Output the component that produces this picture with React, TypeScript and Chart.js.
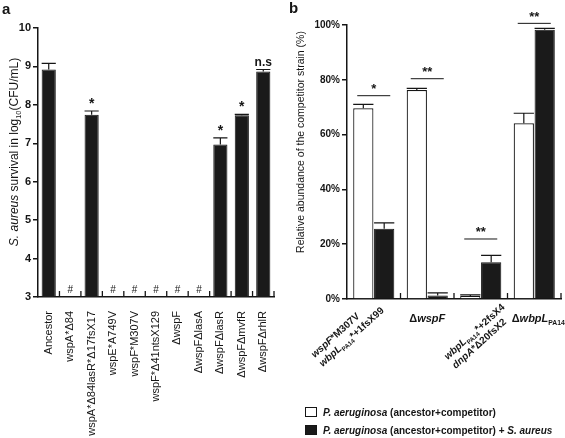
import React, { useEffect, useRef } from "react";
import { Chart, registerables } from "chart.js";

Chart.register(...registerables);

const FONT = "'Liberation Sans', Arial, Helvetica, sans-serif";
const INK = "#151515";

// ---------------- Panel a data ----------------
const strainsA = [
  "Ancestor",
  "wspA*Δ84",
  "wspA*Δ84lasR*Δ17fsX17",
  "wspE*A749V",
  "wspF*M307V",
  "wspF*Δ41ntsX129",
  "ΔwspF",
  "ΔwspFΔlasA",
  "ΔwspFΔlasR",
  "ΔwspFΔmvfR",
  "ΔwspFΔrhlR",
];
const survivalA: (number | null)[] = [8.92, null, 7.74, null, null, null, null, null, 6.97, 7.73, 8.87];
const survivalErrA = [0.16, 0, 0.1, 0, 0, 0, 0, 0, 0.17, 0.02, 0.05];
const marksA = ["", "#", "*", "#", "#", "#", "#", "#", "*", "*", "n.s"];
const yMinA = 3;
const yMaxA = 10;
const yStepA = 1;

// ---------------- Panel b data ----------------
const groupsB = ["wspF*M307V wbpL PA14*+1fsX99", "ΔwspF", "wbpL PA14*+2fsX4 dnpA*Δ20fsX2", "ΔwbpL PA14"];
const competitorOnlyB = [69.6, 76.3, 1.1, 64.1];
const competitorOnlyErrB = [1.4, 0.6, 0.4, 3.7];
const withSaureusB = [25.6, 1.3, 13.4, 98.3];
const withSaureusErrB = [2.2, 0.9, 2.5, 0.5];
const sigLevelB = [74.2, 80.4, 21.9, 100.6];
const sigMarkB = ["*", "**", "**", "**"];
const yMinB = 0;
const yMaxB = 100;
const yStepB = 20;

type Run = { t: string; i?: boolean; sub?: boolean };

const groupLabelRunsB: Run[][][] = [
  [
    [{ t: "wspF", i: true }, { t: "*M307V" }],
    [{ t: "wbpL", i: true }, { t: "PA14", sub: true }, { t: "*+1fsX99" }],
  ],
  [[{ t: "Δ" }, { t: "wspF", i: true }]],
  [
    [{ t: "wbpL", i: true }, { t: "PA14", sub: true }, { t: "*+2fsX4" }],
    [{ t: "dnpA", i: true }, { t: "*Δ20fsX2" }],
  ],
  [[{ t: "Δ" }, { t: "wbpL", i: true }, { t: "PA14", sub: true }]],
];
const seriesNamesB = [
  "P. aeruginosa (ancestor+competitor)",
  "P. aeruginosa (ancestor+competitor) + S. aureus",
];
const seriesRunsB: Run[][] = [
  [{ t: "P. aeruginosa", i: true }, { t: " (ancestor+competitor)" }],
  [{ t: "P. aeruginosa", i: true }, { t: " (ancestor+competitor) + " }, { t: "S. aureus", i: true }],
];
const titleRunsA: Run[] = [
  { t: "S. aureus", i: true },
  { t: " survival in log" },
  { t: "10", sub: true },
  { t: "(CFU/mL)" },
];
const titleRunsB: Run[] = [{ t: "Relative abundance of the competitor strain (%)" }];

// ---------------- drawing helpers ----------------
function runFont(r: Run, size: number, weight: string) {
  const s = r.sub ? Math.round(size * 0.62 * 10) / 10 : size;
  return `${r.i ? "italic " : ""}${weight} ${s}px ${FONT}`;
}
function measureRuns(ctx: CanvasRenderingContext2D, runs: Run[], size: number, weight: string) {
  let w = 0;
  for (const r of runs) {
    ctx.font = runFont(r, size, weight);
    w += ctx.measureText(r.t).width;
  }
  return w;
}
function drawRuns(
  ctx: CanvasRenderingContext2D,
  runs: Run[],
  x: number,
  y: number,
  angle: number,
  size: number,
  weight: string,
  align: "left" | "center" | "right",
  dy = 0
) {
  ctx.save();
  ctx.translate(x, y);
  ctx.rotate(angle);
  const w = measureRuns(ctx, runs, size, weight);
  let cx = align === "center" ? -w / 2 : align === "right" ? -w : 0;
  ctx.textAlign = "left";
  ctx.textBaseline = "alphabetic";
  ctx.fillStyle = INK;
  for (const r of runs) {
    ctx.font = runFont(r, size, weight);
    ctx.fillText(r.t, cx, dy + (r.sub ? size * 0.28 : 0));
    cx += ctx.measureText(r.t).width;
  }
  ctx.restore();
}
function text(ctx: CanvasRenderingContext2D, s: string, x: number, y: number, font: string) {
  ctx.save();
  ctx.font = font;
  ctx.fillStyle = INK;
  ctx.textAlign = "center";
  ctx.textBaseline = "alphabetic";
  ctx.fillText(s, x, y);
  ctx.restore();
}
function upTicks(chart: any, n: number) {
  const { left, right, bottom } = chart.chartArea;
  const ctx = chart.ctx as CanvasRenderingContext2D;
  ctx.save();
  ctx.strokeStyle = INK;
  ctx.lineWidth = 1.3;
  for (let i = 1; i <= n; i++) {
    const bx = left + ((right - left) * i) / n;
    ctx.beginPath();
    ctx.moveTo(bx, bottom);
    ctx.lineTo(bx, bottom - 6);
    ctx.stroke();
  }
  ctx.restore();
}
function errorBar(ctx: CanvasRenderingContext2D, cx: number, bw: number, yv: number, ye: number) {
  ctx.beginPath();
  ctx.moveTo(cx, yv);
  ctx.lineTo(cx, ye);
  ctx.moveTo(cx - bw / 2, ye);
  ctx.lineTo(cx + bw / 2, ye);
  ctx.stroke();
}

const panelAPlugin = {
  id: "panelA",
  afterDatasetsDraw(chart: any) {
    const ctx = chart.ctx as CanvasRenderingContext2D;
    const xs = chart.scales.x;
    const ys = chart.scales.y;
    const meta = chart.getDatasetMeta(0);
    const bw = (meta.data.find((b: any) => Number.isFinite(b.width)) as any).width;
    const bottom = chart.chartArea.bottom;
    ctx.save();
    ctx.strokeStyle = INK;
    ctx.lineWidth = 1.2;
    survivalA.forEach((v, i) => {
      const cx = xs.getPixelForValue(i);
      const mark = marksA[i];
      if (v === null) {
        if (mark) text(ctx, mark, cx, bottom - 4.5, `normal 10px ${FONT}`);
        return;
      }
      const top = ys.getPixelForValue(v + survivalErrA[i]);
      errorBar(ctx, cx, bw, ys.getPixelForValue(v), top);
      if (mark === "*") text(ctx, mark, cx, top - 3, `bold 14px ${FONT}`);
      else if (mark) text(ctx, mark, cx, top - 4, `bold 12px ${FONT}`);
    });
    ctx.restore();
    upTicks(chart, strainsA.length);
  },
  afterDraw(chart: any) {
    const ctx = chart.ctx as CanvasRenderingContext2D;
    drawRuns(ctx, titleRunsA, 14, 152, -Math.PI / 2, 12, "normal", "center", 4);
    ctx.save();
    ctx.font = `bold 15px ${FONT}`;
    ctx.fillStyle = INK;
    ctx.textAlign = "left";
    ctx.textBaseline = "alphabetic";
    ctx.fillText("a", 2, 14);
    ctx.restore();
  },
};

const rotLabelOffsetB: ([number, number] | null)[] = [[-59, 59], null, [-33, 61], null];
const flatLabelShiftB = [0, 0, 0, 4];

const panelBPlugin = {
  id: "panelB",
  afterDatasetsDraw(chart: any) {
    const ctx = chart.ctx as CanvasRenderingContext2D;
    const ys = chart.scales.y;
    const xs = chart.scales.x;
    const { bottom } = chart.chartArea;
    const m0 = chart.getDatasetMeta(0);
    const m1 = chart.getDatasetMeta(1);
    ctx.save();
    ctx.strokeStyle = INK;
    ctx.lineWidth = 1.2;
    [
      [m0, competitorOnlyB, competitorOnlyErrB],
      [m1, withSaureusB, withSaureusErrB],
    ].forEach(([meta, vals, errs]: any) => {
      vals.forEach((v: number, i: number) => {
        const el = meta.data[i];
        errorBar(ctx, el.x, el.width, ys.getPixelForValue(v), ys.getPixelForValue(v + errs[i]));
      });
    });
    // significance brackets
    ctx.lineWidth = 1;
    sigLevelB.forEach((lvl, i) => {
      const a = m0.data[i] as any;
      const b = m1.data[i] as any;
      const x1 = a.x - a.width * 0.3;
      const x2 = b.x + b.width * 0.3;
      const yy = ys.getPixelForValue(lvl);
      ctx.beginPath();
      ctx.moveTo(x1, yy);
      ctx.lineTo(x2, yy);
      ctx.stroke();
      text(ctx, sigMarkB[i], (x1 + x2) / 2, yy - 2.5, `bold 13px ${FONT}`);
    });
    ctx.restore();
    upTicks(chart, groupsB.length);
    // category labels
    groupLabelRunsB.forEach((lines, i) => {
      const cx = xs.getPixelForValue(i);
      const off = rotLabelOffsetB[i];
      if (off) {
        const ang = (-42 * Math.PI) / 180;
        lines.forEach((runs, j) => {
          const ox = cx + off[0] + Math.sin(-ang) * 12 * j;
          const oy = bottom + off[1] + Math.cos(ang) * 12 * j;
          drawRuns(ctx, runs, ox, oy, ang, 10, "bold", "left");
        });
      } else {
        drawRuns(ctx, lines[0], cx + flatLabelShiftB[i], bottom + 23, 0, 11, "bold", "center");
      }
    });
  },
  afterDraw(chart: any) {
    const ctx = chart.ctx as CanvasRenderingContext2D;
    drawRuns(ctx, titleRunsB, 12, 142, -Math.PI / 2, 10.5, "normal", "center", 4);
    ctx.save();
    ctx.font = `bold 15px ${FONT}`;
    ctx.fillStyle = INK;
    ctx.textAlign = "left";
    ctx.textBaseline = "alphabetic";
    ctx.fillText("b", 1, 13);
    // legend
    const rows = [412, 430];
    const fills = ["#ffffff", "#1a1a1a"];
    rows.forEach((cy, k) => {
      ctx.fillStyle = fills[k];
      ctx.fillRect(17, cy - 5, 12, 10);
      ctx.strokeStyle = INK;
      ctx.lineWidth = 1;
      ctx.strokeRect(17.5, cy - 4.5, 11, 9);
      drawRuns(ctx, seriesRunsB[k], 35, cy + 3.5, 0, 10, "bold", "left");
    });
    ctx.restore();
  },
};

export default function App() {
  const refA = useRef<HTMLCanvasElement>(null);
  const refB = useRef<HTMLCanvasElement>(null);

  useEffect(() => {
    const axisFont = (size: number, weight: string) => ({ family: FONT, size, weight });
    const chartA = new Chart(refA.current as HTMLCanvasElement, {
      type: "bar",
      data: {
        labels: strainsA,
        datasets: [
          {
            label: "S. aureus survival",
            data: survivalA,
            backgroundColor: "#1a1a1a",
            borderColor: INK,
            borderWidth: 1,
            categoryPercentage: 0.66,
            barPercentage: 1,
          },
        ],
      },
      options: {
        responsive: false,
        maintainAspectRatio: false,
        animation: false,
        devicePixelRatio: 1,
        layout: { padding: { top: 28, left: 0, right: 14, bottom: 0 } },
        plugins: { legend: { display: false }, tooltip: { enabled: false } },
        scales: {
          x: {
            ticks: {
              autoSkip: false,
              minRotation: 90,
              maxRotation: 90,
              color: INK,
              padding: 6,
              font: axisFont(11, "normal") as any,
            },
            grid: { display: false },
            border: { display: true, color: INK, width: 1.5 },
            afterFit: (s: any) => {
              s.height = 141;
            },
          },
          y: {
            min: yMinA,
            max: yMaxA,
            ticks: { stepSize: yStepA, color: INK, padding: 2, font: axisFont(11, "bold") as any },
            grid: { drawOnChartArea: false, drawTicks: true, tickLength: 5, color: INK, lineWidth: 1.5 },
            border: { display: true, color: INK, width: 1.5 },
            afterFit: (s: any) => {
              s.width = 38;
            },
          },
        },
      },
      plugins: [panelAPlugin],
    } as any);

    const chartB = new Chart(refB.current as HTMLCanvasElement, {
      type: "bar",
      data: {
        labels: groupsB,
        datasets: [
          {
            label: seriesNamesB[0],
            data: competitorOnlyB,
            backgroundColor: "#ffffff",
            borderColor: INK,
            borderWidth: 1.2,
            categoryPercentage: 0.78,
            barPercentage: 0.97,
          },
          {
            label: seriesNamesB[1],
            data: withSaureusB,
            backgroundColor: "#1a1a1a",
            borderColor: INK,
            borderWidth: 1,
            categoryPercentage: 0.78,
            barPercentage: 0.97,
          },
        ],
      },
      options: {
        responsive: false,
        maintainAspectRatio: false,
        animation: false,
        devicePixelRatio: 1,
        layout: { padding: { top: 25, left: 0, right: 4, bottom: 0 } },
        plugins: { legend: { display: false }, tooltip: { enabled: false } },
        scales: {
          x: {
            ticks: { display: false },
            grid: { display: false },
            border: { display: true, color: INK, width: 1.5 },
            afterFit: (s: any) => {
              s.height = 139;
            },
          },
          y: {
            min: yMinB,
            max: yMaxB,
            ticks: {
              stepSize: yStepB,
              color: INK,
              padding: 2,
              font: axisFont(10, "bold") as any,
              callback: (v: any) => `${v}%`,
            },
            grid: { drawOnChartArea: false, drawTicks: true, tickLength: 5, color: INK, lineWidth: 1.5 },
            border: { display: true, color: INK, width: 1.5 },
            afterFit: (s: any) => {
              s.width = 59;
            },
          },
        },
      },
      plugins: [panelBPlugin],
    } as any);

    return () => {
      chartA.destroy();
      chartB.destroy();
    };
  }, []);

  return (
    <div style={{ position: "absolute", left: 0, top: 0, width: 565, height: 438, background: "#ffffff", overflow: "hidden" }}>
      <canvas
        ref={refA}
        width={288}
        height={438}
        style={{ position: "absolute", left: 0, top: 0, width: 288, height: 438 }}
      />
      <canvas
        ref={refB}
        width={277}
        height={438}
        style={{ position: "absolute", left: 288, top: 0, width: 277, height: 438 }}
      />
    </div>
  );
}
